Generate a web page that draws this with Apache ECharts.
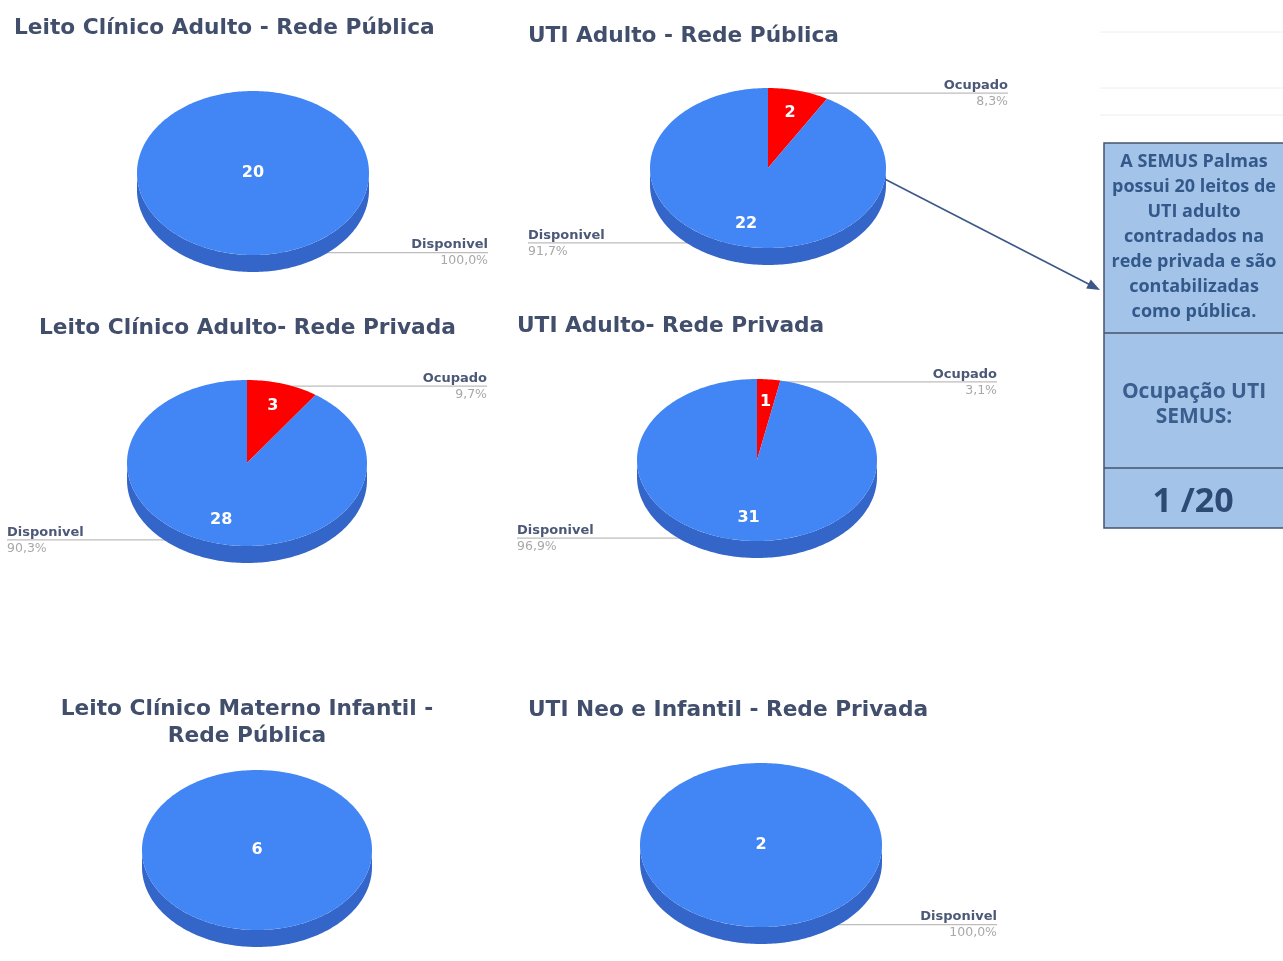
<!DOCTYPE html>
<html>
<head>
<meta charset="utf-8">
<script src="https://cdn.jsdelivr.net/npm/echarts@6/dist/echarts.min.js"></script>
<style>
  html, body { margin: 0; padding: 0; background: #fff; }
  #chart { width: 1283px; height: 961px; }
</style>
</head>
<body>
<div id="chart"></div>
<script>
// slice names, in drawing order (clockwise from 12 o'clock)
const sliceNames = ['Ocupado', 'Disponivel'];

const titles = [
  'Leito Clínico Adulto - Rede Pública',
  'UTI Adulto - Rede Pública',
  'Leito Clínico Adulto- Rede Privada',
  'UTI Adulto- Rede Privada',
  'Leito Clínico Materno Infantil -\nRede Pública',
  'UTI Neo e Infantil - Rede Privada'
];

// beds [Ocupado, Disponivel]
const leitoAdultoPublica = [0, 20];
const utiAdultoPublica = [2, 22];
const leitoAdultoPrivada = [3, 28];
const utiAdultoPrivada = [1, 31];
const maternoInfantilPublica = [0, 6];
const utiNeoInfantilPrivada = [0, 2];

const semusOcupados = 1;
const semusContratados = 20;
const boxNote = 'A SEMUS Palmas\npossui 20 leitos de\nUTI adulto\ncontradados na\nrede privada e são\ncontabilizadas\ncomo pública.';
const boxLabel = 'Ocupação UTI\nSEMUS:';

const chartValues = [leitoAdultoPublica, utiAdultoPublica, leitoAdultoPrivada,
  utiAdultoPrivada, maternoInfantilPublica, utiNeoInfantilPrivada];

// layout of each little pie (ellipse centre / radii, label columns, title spot)
const layouts = [
  {cx: 253, cy: 173, rx: 116, ry: 82, left: 14, right: 488, labels: true, tx: 14, ty: 15},
  {cx: 768, cy: 168, rx: 118, ry: 80, left: 528, right: 1008, labels: true, tx: 528, ty: 23},
  {cx: 247, cy: 463, rx: 120, ry: 83, left: 7, right: 487, labels: true, tx: 39, ty: 315},
  {cx: 757, cy: 460, rx: 120, ry: 81, left: 517, right: 997, labels: true, tx: 517, ty: 313},
  {cx: 257, cy: 850, rx: 115, ry: 80, left: 0, right: 0, labels: false, tx: 247, ty: 696, center: true},
  {cx: 761, cy: 845, rx: 121, ry: 82, left: 528, right: 997, labels: true, tx: 528, ty: 697}
];
const depth = 17;
const topColors = ['#ff0000', '#4285f4'];
const sideColors = ['#c20000', '#3465c9'];
const FONT = '"DejaVu Sans", "Liberation Sans", sans-serif';

function pieSeries(values, lay) {
  const total = values.reduce((a, b) => a + b, 0);
  const starts = [];
  let acc = 0;
  values.forEach(v => { starts.push(acc / total * 2 * Math.PI); acc += v; });
  const nonZero = values.filter(v => v > 0).length;
  const pt = (a, f, dy) => [lay.cx + lay.rx * f * Math.sin(a), lay.cy - lay.ry * f * Math.cos(a) + (dy || 0)];

  return {
    type: 'custom',
    coordinateSystem: 'none',
    silent: true,
    animation: false,
    data: values,
    renderItem: function (params) {
      const i = params.dataIndex;
      const v = values[i];
      if (!v) return null;
      const a0 = starts[i];
      const a1 = a0 + v / total * 2 * Math.PI;
      const mid = (a0 + a1) / 2;
      const children = [];

      // side wall: only the front half shows
      const s = Math.max(a0, Math.PI / 2);
      const e = Math.min(a1, Math.PI * 1.5);
      if (e > s) {
        const m = Math.ceil((e - s) / 0.02);
        const up = [], down = [];
        for (let k = 0; k <= m; k++) {
          const a = s + (e - s) * k / m;
          up.push(pt(a, 1));
          down.unshift(pt(a, 1, depth));
        }
        children.push({type: 'polygon', z2: 1, shape: {points: up.concat(down)}, style: {fill: sideColors[i]}});
      }

      // top face
      const n = Math.max(2, Math.ceil((a1 - a0) / 0.02));
      const topPts = nonZero > 1 ? [pt(0, 0)] : [];
      for (let k = 0; k <= n; k++) topPts.push(pt(a0 + (a1 - a0) * k / n, 1));
      children.push({type: 'polygon', z2: 2, shape: {points: topPts}, style: {fill: topColors[i]}});

      // value inside the slice
      const lp = nonZero > 1 ? pt(mid, 0.72) : [lay.cx, lay.cy];
      children.push({
        type: 'text', z2: 3,
        style: {text: String(v), x: lp[0], y: lp[1], align: 'center', verticalAlign: 'middle',
          fill: '#fff', font: 'bold 16px ' + FONT}
      });

      // leader line + name / percent
      if (lay.labels) {
        const ep = pt(mid, 0.97);
        const right = Math.sin(mid) >= -1e-9;
        const lx = right ? lay.right : lay.left;
        const pct = (v / total * 100).toFixed(1).replace('.', ',') + '%';
        children.push({type: 'line', z2: 0, shape: {x1: ep[0], y1: ep[1], x2: lx, y2: ep[1]},
          style: {stroke: '#bdbdbd', lineWidth: 1.2}});
        children.push({type: 'text', z2: 3,
          style: {text: sliceNames[i], x: lx, y: ep[1] - 1, align: right ? 'right' : 'left',
            verticalAlign: 'bottom', fill: '#4c5877', font: 'bold 13px ' + FONT}});
        children.push({type: 'text', z2: 3,
          style: {text: pct, x: lx, y: ep[1] + 2, align: right ? 'right' : 'left',
            verticalAlign: 'top', fill: '#a8a8a8', font: '12.5px ' + FONT}});
      }
      return {type: 'group', children: children};
    }
  };
}

const chart = echarts.init(document.getElementById('chart'));

// arrow from the UTI pie to the note box
const ax1 = 873, ay1 = 173, ax2 = 1100, ay2 = 290;
const alen = Math.hypot(ax2 - ax1, ay2 - ay1);
const ux = (ax2 - ax1) / alen, uy = (ay2 - ay1) / alen;

chart.setOption({
  backgroundColor: '#fff',
  title: titles.map((t, i) => ({
    text: t,
    left: layouts[i].tx,
    top: layouts[i].ty,
    padding: 0,
    textAlign: layouts[i].center ? 'center' : 'left',
    textStyle: {color: '#414e6c', fontFamily: 'DejaVu Sans', fontWeight: 'bold', fontSize: 21.7, lineHeight: 27}
  })),
  graphic: [
    {type: 'line', shape: {x1: 1100, y1: 32, x2: 1283, y2: 32}, style: {stroke: '#eeeeee', lineWidth: 1}},
    {type: 'line', shape: {x1: 1100, y1: 88, x2: 1283, y2: 88}, style: {stroke: '#eeeeee', lineWidth: 1}},
    {type: 'line', shape: {x1: 1100, y1: 115, x2: 1283, y2: 115}, style: {stroke: '#eeeeee', lineWidth: 1}},
    {type: 'rect', shape: {x: 1104, y: 143, width: 190, height: 385},
      style: {fill: '#a4c3e9', stroke: '#45546d', lineWidth: 1.5}},
    {type: 'line', shape: {x1: 1104, y1: 333, x2: 1294, y2: 333}, style: {stroke: '#45546d', lineWidth: 1.5}},
    {type: 'line', shape: {x1: 1104, y1: 468, x2: 1294, y2: 468}, style: {stroke: '#45546d', lineWidth: 1.5}},
    {type: 'text', x: 1194, y: 237,
      style: {text: boxNote, align: 'center', textAlign: 'center', verticalAlign: 'middle', textVerticalAlign: 'middle',
        fill: '#33598a', font: 'bold 18px "Open Sans", sans-serif', lineHeight: 25}},
    {type: 'text', x: 1194, y: 405,
      style: {text: boxLabel, align: 'center', textAlign: 'center', verticalAlign: 'middle', textVerticalAlign: 'middle',
        fill: '#3a5f8f', font: 'bold 21px "Open Sans", sans-serif', lineHeight: 25}},
    {type: 'text', x: 1193, y: 502,
      style: {text: semusOcupados + ' /' + semusContratados, align: 'center', textAlign: 'center',
        verticalAlign: 'middle', textVerticalAlign: 'middle',
        fill: '#2c4a74', font: 'bold 34px "Open Sans", sans-serif'}},
    {type: 'line', shape: {x1: ax1, y1: ay1, x2: ax2 - ux * 8, y2: ay2 - uy * 8},
      style: {stroke: '#3b5888', lineWidth: 1.6}},
    {type: 'polygon', shape: {points: [
      [ax2, ay2],
      [ax2 - ux * 13 - uy * 5, ay2 - uy * 13 + ux * 5],
      [ax2 - ux * 13 + uy * 5, ay2 - uy * 13 - ux * 5]
    ]}, style: {fill: '#3b5888'}}
  ],
  series: chartValues.map((vals, i) => pieSeries(vals, layouts[i]))
});
</script>
</body>
</html>
